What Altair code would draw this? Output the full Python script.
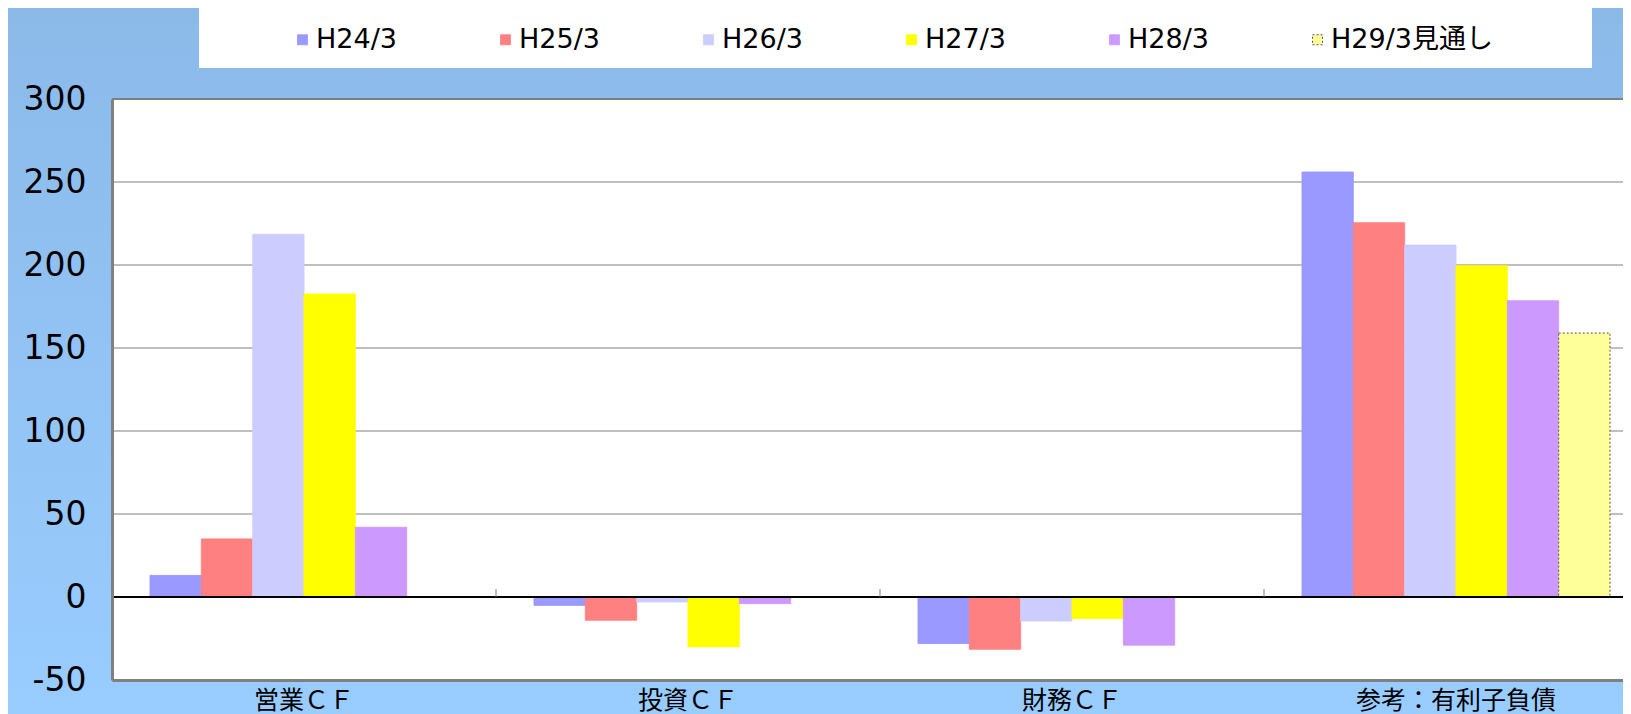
import altair as alt
import pandas as pd

categories = ["営業ＣＦ", "投資ＣＦ", "財務ＣＦ", "参考：有利子負債"]
series = ["H24/3", "H25/3", "H26/3", "H27/3", "H28/3", "H29/3見通し"]
h24 = [13, -5, -28, 256]
h25 = [35, -14, -31.5, 225.5]
h26 = [218.5, -3, -14.5, 212]
h27 = [182.5, -30, -13, 199.5]
h28 = [42, -4, -29, 178.5]
h29 = [None, None, None, 159]
colors = ["#9999FF", "#FF8080", "#CCCCFF", "#FFFF00", "#CC99FF", "#FFFF99"]
edge_colors = ["#9999FF", "#FF8080", "#CCCCFF", "#FFFF00", "#CC99FF", "#555555"]
y_ticks = [-50, 0, 50, 100, 150, 200, 250, 300]

rows = []
for s, vals in zip(series, [h24, h25, h26, h27, h28, h29]):
    for c, v in zip(categories, vals):
        if v is not None:
            rows.append({"category": c, "series": s, "value": v})
df = pd.DataFrame(rows)

W, H = 1511, 581
PAD = {"left": 104, "top": 91, "right": 0, "bottom": 34}
NUM_FONT = "DejaVu Sans, Noto Sans CJK JP"
CJK_FONT = "Noto Sans CJK JP"

x_scale = alt.Scale(domain=categories, range=[0, 1536], paddingInner=0, paddingOuter=0)
x_axis = alt.Axis(title=None, labelAngle=0, ticks=False, domainColor="#808080", domainWidth=3,
                  labelFont=CJK_FONT, labelFontSize=25, labelColor="black", labelPadding=8,
                  labelLimit=500, zindex=1)
y_enc = alt.Y("value:Q", scale=alt.Scale(domain=[-50, 300], nice=False, zero=False),
              axis=alt.Axis(title=None, values=y_ticks, grid=False, ticks=False, domainColor="#808080",
                            domainWidth=3, labelFont=NUM_FONT, labelFontSize=33, labelColor="black",
                            labelPadding=26, labelExpr="toString(datum.value)", zindex=1))
x_enc = alt.X("category:N", sort=categories, scale=x_scale, axis=x_axis)

one = pd.DataFrame({"k": [0]})
bg = alt.Chart(one).mark_rect(
    fill=alt.Gradient(gradient="linear",
                      stops=[alt.GradientStop(color="#8BBAE9", offset=0),
                             alt.GradientStop(color="#99CCFF", offset=1)],
                      x1=0, x2=0, y1=0, y2=1)
).encode(x=alt.value(-PAD["left"]), x2=alt.value(W + 40), y=alt.value(-PAD["top"]), y2=alt.value(H + PAD["bottom"]))
plot_bg = alt.Chart(one).mark_rect(fill="white").encode(
    x=alt.value(0), x2=alt.value(W + 40), y=alt.value(0), y2=alt.value(H))
legend_box = alt.Chart(one).mark_rect(fill="white").encode(
    x=alt.value(87), x2=alt.value(1480), y=alt.value(-91), y2=alt.value(-31))

grid = alt.Chart(pd.DataFrame({"value": y_ticks})).mark_rule(color="#AAAAAA", strokeWidth=1.5).encode(y=y_enc)

bars = alt.Chart(df).mark_bar(strokeWidth=1).encode(
    x=x_enc,
    xOffset=alt.XOffset("series:N", sort=series,
                        scale=alt.Scale(domain=series, paddingInner=0, paddingOuter=0.74)),
    y=y_enc,
    fill=alt.Fill("series:N", sort=series, scale=alt.Scale(domain=series, range=colors),
                  legend=alt.Legend(orient="none", legendX=177, legendY=-73, direction="horizontal",
                                    columns=6, gridAlign="all", columnPadding=14, title=None,
                                    labelFont=NUM_FONT, labelFontSize=27, labelColor="black",
                                    labelLimit=400,
                                    symbolType="square", symbolSize=100, symbolStrokeWidth=1,
                                    labelOffset=0, padding=0)),
    stroke=alt.Stroke("series:N", sort=series, scale=alt.Scale(domain=series, range=edge_colors)),
    strokeDash=alt.StrokeDash("series:N", sort=series,
                              scale=alt.Scale(domain=series, range=[[1, 0]] * 5 + [[2, 2]])),
)

zero = alt.Chart(pd.DataFrame({"value": [0]})).mark_rule(color="black", strokeWidth=2).encode(y=y_enc)
top_border = alt.Chart(pd.DataFrame({"value": [300]})).mark_rule(color="#808080", strokeWidth=2).encode(y=y_enc)

ticks_df = pd.DataFrame({"category": categories, "value": [0] * len(categories)})
band_ticks = alt.Chart(ticks_df).mark_rule(color="#808080", strokeWidth=1, y2Offset=-8).encode(
    x=alt.X("category:N", sort=categories, scale=x_scale, axis=x_axis, bandPosition=0),
    y=y_enc,
    y2=alt.Y2("value:Q"),
)

chart = alt.layer(bg, plot_bg, legend_box, grid, bars, zero, band_ticks, top_border).properties(
    width=W, height=H,
    autosize=alt.AutoSizeParams(type="none"),
    padding=PAD,
).configure(background="#8BBAE9").configure_view(stroke="transparent")

chart.save("out.html", embed_options={"renderer": "svg", "actions": False})
